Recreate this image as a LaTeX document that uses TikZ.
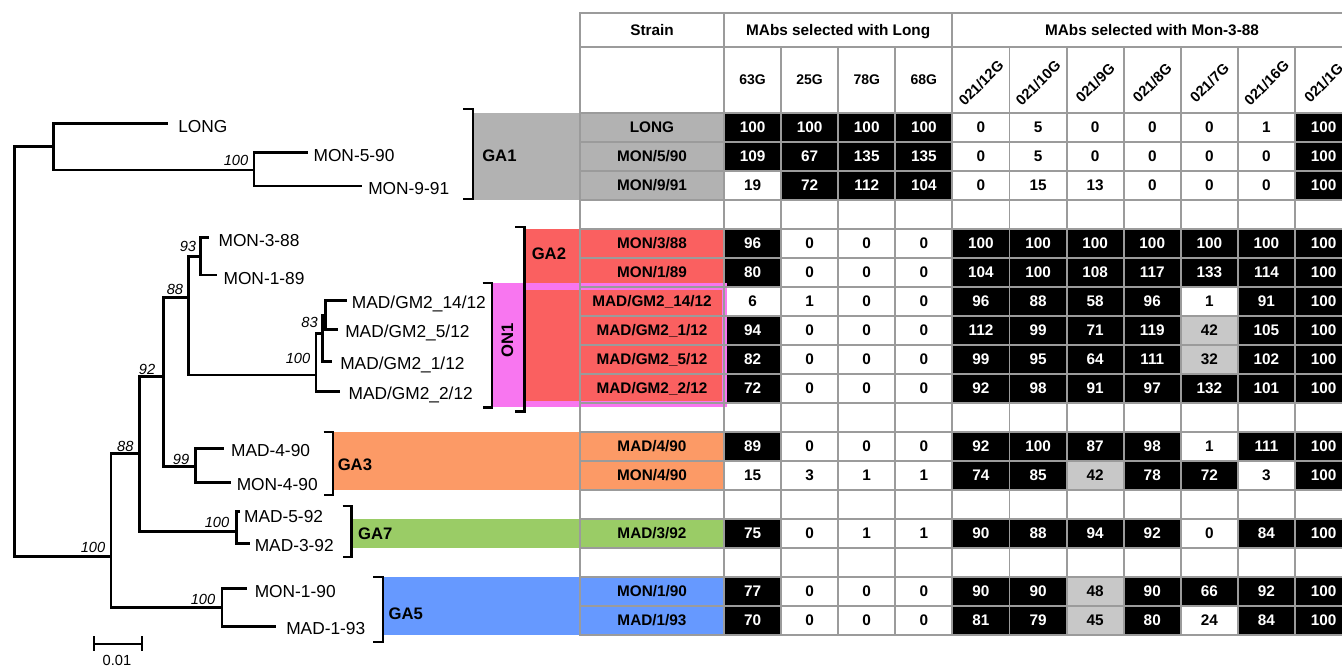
\documentclass[tikz,border=0pt]{standalone}
\usepackage{fontspec}
\setmainfont{Liberation Sans}
\newcommand\fsz[1]{\fontsize{#1}{#1}\selectfont}
\definecolor{gridgray}{RGB}{155,155,155}
\definecolor{midgray}{RGB}{200,200,200}
\definecolor{gaonegray}{RGB}{178,178,178}
\definecolor{gatwored}{RGB}{250,96,96}
\definecolor{onpink}{RGB}{248,118,240}
\definecolor{gathreeorange}{RGB}{252,154,102}
\definecolor{gasevengreen}{RGB}{154,204,102}
\definecolor{gafiveblue}{RGB}{102,153,255}
\begin{document}
\begin{tikzpicture}[x=0.75pt,y=-0.75pt,
  tree/.style={line width=2pt, line join=miter},
  brk/.style={line width=1.6pt, line join=miter},
  grid/.style={draw=gridgray, line width=1.4pt, line cap=rect},
  leaf/.style={font=\fsz{13}, anchor=west, inner sep=0pt, text height=9.3pt, text depth=0pt},
  boot/.style={font=\fsz{11}\itshape, inner sep=0pt, text height=7.9pt, text depth=0pt},
  grp/.style={font=\fsz{12.5}\bfseries, anchor=west, inner sep=0pt, text height=9pt, text depth=0pt},
  hdr/.style={font=\fsz{11.5}\bfseries, inner sep=0pt, text height=8.2pt, text depth=0pt},
  colh/.style={font=\fsz{10.5}\bfseries, inner sep=0pt, text height=7.5pt, text depth=0pt},
  roth/.style={font=\fsz{11}\bfseries, inner sep=0pt, text height=7.9pt, text depth=0pt, rotate=45},
  strn/.style={font=\fsz{11.5}\bfseries, inner sep=0pt, text height=8.2pt, text depth=0pt},
  numB/.style={strn, text=white},
  numW/.style={strn},
  numG/.style={strn},
  fillB/.style={fill=black},
  fillW/.style={fill=white},
  fillG/.style={fill=midgray},
]
\path[use as bounding box] (0,0) rectangle (1342,667);
\clip (0,0) rectangle (1342,667);

% ---------- clade colour bands ----------
\fill[gaonegray] (473,112.8) rectangle (724,199.8);
\fill[gatwored] (525,228.8) rectangle (724,286.8);
\fill[gatwored] (525,228.8) rectangle (580,402);
\fill[gathreeorange] (334,431.8) rectangle (724,489.8);
\fill[gasevengreen] (352,518.8) rectangle (724,547.8);
\fill[gafiveblue] (383,576.8) rectangle (724,634.8);

% ---------- neutralisation values ----------
\foreach \row/\data in {
  0/{100/B,100/B,100/B,100/B,0/W,5/W,0/W,0/W,0/W,1/W,100/B},
  1/{109/B,67/B,135/B,135/B,0/W,5/W,0/W,0/W,0/W,0/W,100/B},
  2/{19/W,72/B,112/B,104/B,0/W,15/W,13/W,0/W,0/W,0/W,100/B},
  4/{96/B,0/W,0/W,0/W,100/B,100/B,100/B,100/B,100/B,100/B,100/B},
  5/{80/B,0/W,0/W,0/W,104/B,100/B,108/B,117/B,133/B,114/B,100/B},
  6/{6/W,1/W,0/W,0/W,96/B,88/B,58/B,96/B,1/W,91/B,100/B},
  7/{94/B,0/W,0/W,0/W,112/B,99/B,71/B,119/B,42/G,105/B,100/B},
  8/{82/B,0/W,0/W,0/W,99/B,95/B,64/B,111/B,32/G,102/B,100/B},
  9/{72/B,0/W,0/W,0/W,92/B,98/B,91/B,97/B,132/B,101/B,100/B},
  11/{89/B,0/W,0/W,0/W,92/B,100/B,87/B,98/B,1/W,111/B,100/B},
  12/{15/W,3/W,1/W,1/W,74/B,85/B,42/G,78/B,72/B,3/W,100/B},
  14/{75/B,0/W,1/W,1/W,90/B,88/B,94/B,92/B,0/W,84/B,100/B},
  16/{77/B,0/W,0/W,0/W,90/B,90/B,48/G,90/B,66/B,92/B,100/B},
  17/{70/B,0/W,0/W,0/W,81/B,79/B,45/G,80/B,24/W,84/B,100/B}}{
  \foreach \val/\sty [count=\col from 0] in \data {
    \pgfmathsetmacro\xl{724+57.1*\col}
    \pgfmathsetmacro\yt{112.8+29*\row}
    \fill[fill\sty] (\xl,\yt) rectangle ++(57.1,29);
    \node[num\sty] (c-\row-\col) at (\xl+28.55,\yt+14.5) {\val};
  }
}

% ---------- ON1 frame ----------
\fill[onpink] (491.7,283.3) rectangle (726.7,407);
\fill[gatwored] (525,290) rectangle (721.5,401);

% ---------- grid ----------
\draw[grid] (580,13) -- (1352,13);
\draw[grid] (580,47) -- (1352,47);
\foreach \k in {0,...,18}
  \draw[grid] (580,112.8+29*\k) -- (1352,112.8+29*\k);
\foreach \xx in {580,724,952.4}
  \draw[grid] (\xx,13) -- (\xx,634.8);
\foreach \j in {1,2,3,5,6,7,8,9,10}
  \draw[grid] (724+57.1*\j,47) -- (724+57.1*\j,634.8);

% ---------- headers ----------
\node[hdr] (h-strain) at (652,30) {Strain};
\node[hdr] (h-long) at (838.2,30) {MAbs selected with Long};
\node[hdr] (h-mon) at (1152,30) {MAbs selected with Mon-3-88};
\foreach \j/\lab in {0/63G,1/25G,2/78G,3/68G}
  \node[colh] (h-\j) at (724+57.1*\j+28.55,79.5) {\lab};
\foreach \j/\lab in {4/{021/12G},5/{021/10G},6/{021/9G},7/{021/8G},8/{021/7G},9/{021/16G},10/{021/1G}}
  \node[roth] (h-\j) at (724+57.1*\j+28.55,83) {\lab};

% ---------- strain names ----------
\foreach \row/\name in {0/LONG,1/{MON/5/90},2/{MON/9/91},4/{MON/3/88},5/{MON/1/89},
  6/{MAD/GM2\_14/12},7/{MAD/GM2\_1/12},8/{MAD/GM2\_5/12},9/{MAD/GM2\_2/12},
  11/{MAD/4/90},12/{MON/4/90},14/{MAD/3/92},16/{MON/1/90},17/{MAD/1/93}}
  \node[strn] (s-\row) at (652,112.8+29*\row+14.5) {\name};

% ---------- clade brackets and labels ----------
\draw[brk] (463,109) -- (473,109) -- (473,199) -- (463,199);
\draw[brk] (515,227) -- (524.5,227) -- (524.5,411.5) -- (515,411.5);
\draw[brk] (482.7,283.3) -- (491.7,283.3) -- (491.7,407.5) -- (482.7,407.5);
\draw[brk] (323.5,431.7) -- (333,431.7) -- (333,495) -- (323.5,495);
\draw[brk] (342.5,506) -- (351.5,506) -- (351.5,557.3) -- (342.5,557.3);
\draw[brk] (373,577.3) -- (382.7,577.3) -- (382.7,641.7) -- (373,641.7);
\node[grp] (g1) at (482,155) {GA1};
\node[grp] (g2) at (531.5,253.3) {GA2};
\node[grp, anchor=center, rotate=90] (on1) at (507,340) {ON1};
\node[grp] (g3) at (337.5,464.3) {GA3};
\node[grp] (g7) at (357.8,533.3) {GA7};
\node[grp] (g5) at (388.4,613.3) {GA5};

% ---------- tree: internal nodes ----------
\coordinate (root) at (14.5,351.7);
\coordinate (nA) at (53.3,146.7);
\coordinate (nB) at (254,170);
\coordinate (nC) at (111,556.7);
\coordinate (nD) at (222,607.3);
\coordinate (nE) at (139.7,453.3);
\coordinate (nF) at (236.5,531.7);
\coordinate (nG) at (195.2,466.7);
\coordinate (nH) at (200.7,256.7);
\coordinate (nI) at (188.7,297.3);
\coordinate (nJ) at (316,375);
\coordinate (nK) at (163.3,376.7);
\coordinate (nL) at (322.7,333.3);
\coordinate (nM) at (325.5,315);
% ---------- tree: tips ----------
\coordinate (tLONG) at (168.3,123.3);
\coordinate (t5-90) at (308.3,152.3);
\coordinate (t9-91) at (362,186);
\coordinate (t3-88) at (209.3,237.3);
\coordinate (t1-89) at (216.7,275);
\coordinate (t14-12) at (346.7,300.7);
\coordinate (t5-12) at (338.3,329.3);
\coordinate (t1-12) at (331.7,361.7);
\coordinate (t2-12) at (340,391.7);
\coordinate (tm4-90) at (223.9,448.3);
\coordinate (tn4-90) at (230.8,482.3);
\coordinate (t5-92) at (239.5,511.7);
\coordinate (t3-92) at (249.5,543.3);
\coordinate (t1-90) at (246.8,588.3);
\coordinate (t1-93) at (276,626.7);

% ---------- tree: branches ----------
\draw[tree] (root) |- (nA);  \draw[tree] (root) |- (nC);
\draw[tree] (nA) |- (tLONG); \draw[tree] (nA) |- (nB);
\draw[tree] (nB) |- (t5-90); \draw[tree] (nB) |- (t9-91);
\draw[tree] (nC) |- (nE);    \draw[tree] (nC) |- (nD);
\draw[tree] (nE) |- (nK);    \draw[tree] (nE) |- (nF);
\draw[tree] (nK) |- (nI);    \draw[tree] (nK) |- (nG);
\draw[tree] (nI) |- (nH);    \draw[tree] (nI) |- (nJ);
\draw[tree] (nH) |- (t3-88); \draw[tree] (nH) |- (t1-89);
\draw[tree] (nJ) |- (nL);    \draw[tree] (nJ) |- (t2-12);
\draw[tree] (nL) |- (nM);    \draw[tree] (nL) |- (t1-12);
\draw[tree] (nM) |- (t14-12); \draw[tree] (nM) |- (t5-12);
\draw[tree] (nG) |- (tm4-90); \draw[tree] (nG) |- (tn4-90);
\draw[tree] (nF) |- (t5-92); \draw[tree] (nF) |- (t3-92);
\draw[tree] (nD) |- (t1-90); \draw[tree] (nD) |- (t1-93);

% ---------- tree: tip labels ----------
\node[leaf] (lLONG) at (178,126) {LONG};
\node[leaf] (l5-90) at (313.3,155) {MON-5-90};
\node[leaf] (l9-91) at (368,188.5) {MON-9-91};
\node[leaf] (l3-88) at (218.3,240.5) {MON-3-88};
\node[leaf] (l1-89) at (223.3,278.3) {MON-1-89};
\node[leaf] (l14-12) at (351.7,302) {MAD/GM2\_14/12};
\node[leaf] (l5-12) at (345,331.7) {MAD/GM2\_5/12};
\node[leaf] (l1-12) at (340,363.3) {MAD/GM2\_1/12};
\node[leaf] (l2-12) at (348.3,393.3) {MAD/GM2\_2/12};
\node[leaf] (lm4-90) at (230.8,450) {MAD-4-90};
\node[leaf] (ln4-90) at (236.5,484) {MON-4-90};
\node[leaf] (l5-92) at (243.8,516) {MAD-5-92};
\node[leaf] (l3-92) at (254.5,545) {MAD-3-92};
\node[leaf] (l1-90) at (254.5,591) {MON-1-90};
\node[leaf] (l1-93) at (286,628) {MAD-1-93};

% ---------- tree: bootstrap values ----------
\node[boot] (bB) at (236,160.5) {100};
\node[boot] (bH) at (188,246.5) {93};
\node[boot] (bI) at (175,289.5) {88};
\node[boot] (bL) at (309.5,322.5) {83};
\node[boot] (bJ) at (298,358) {100};
\node[boot] (bK) at (147,369) {92};
\node[boot] (bE) at (125.4,446) {88};
\node[boot] (bG) at (181,459) {99};
\node[boot] (bF) at (217,522) {100};
\node[boot] (bC) at (93,547) {100};
\node[boot] (bD) at (203,599) {100};

% ---------- scale bar ----------
\draw[brk] (93.8,644) -- (142.4,644);
\draw[brk] (93.8,636) -- (93.8,651);
\draw[brk] (142.4,636) -- (142.4,651);
\node[font=\fsz{11}, inner sep=0pt, text height=7.9pt, text depth=0pt] (sbl) at (117,660.5) {0.01};
\end{tikzpicture}
\end{document}
